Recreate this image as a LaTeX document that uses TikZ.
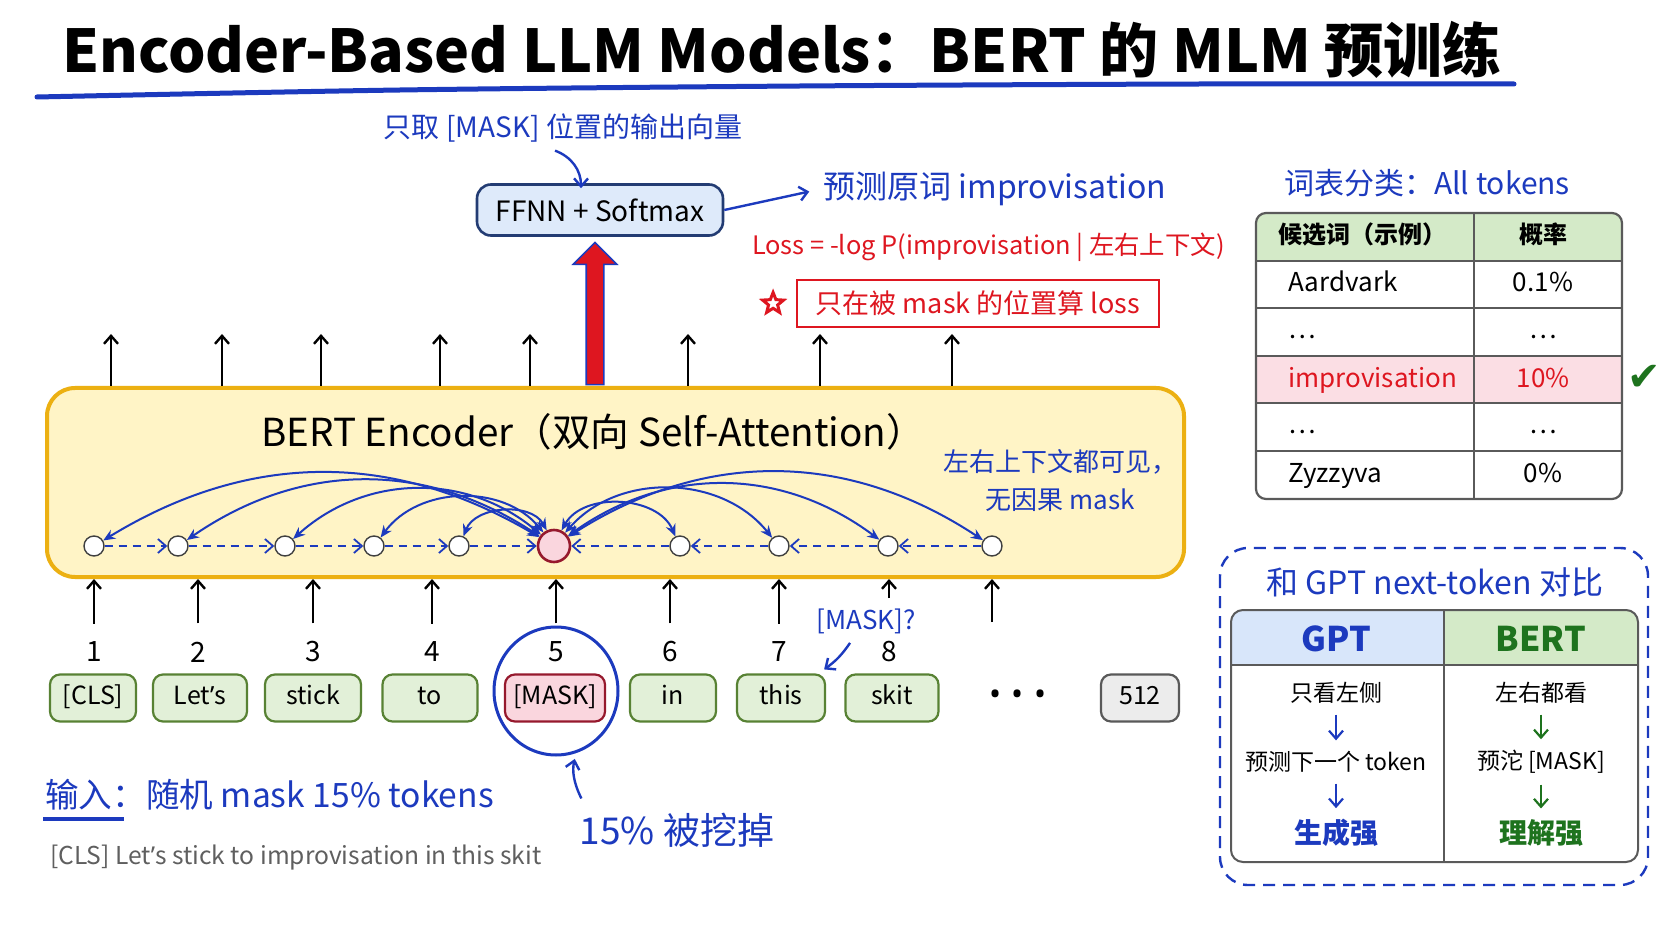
\documentclass[tikz,border=0pt]{standalone}
\usepackage{fontspec}
\setmainfont{Noto Sans CJK SC}
\newfontfamily\symfont{DejaVu Sans}
\newfontfamily\latinfont{Noto Sans}
\usetikzlibrary{arrows.meta,shapes.geometric,shapes.arrows,calc,positioning}

\definecolor{inkblue}{RGB}{28,58,190}
\definecolor{inkred}{RGB}{222,22,32}
\definecolor{inkgreen}{RGB}{30,115,30}
\definecolor{encfill}{RGB}{255,244,198}
\definecolor{encline}{RGB}{236,176,18}
\definecolor{tokfill}{RGB}{226,240,216}
\definecolor{tokline}{RGB}{88,130,52}
\definecolor{maskfill}{RGB}{250,214,222}
\definecolor{maskline}{RGB}{150,25,45}
\definecolor{ffnnfill}{RGB}{222,234,250}
\definecolor{ffnnline}{RGB}{35,60,115}
\definecolor{hdrgreen}{RGB}{212,234,200}
\definecolor{hdrblue}{RGB}{216,230,250}
\definecolor{rowpink}{RGB}{251,222,228}
\definecolor{gridgray}{RGB}{90,90,90}
\definecolor{textgray}{RGB}{95,95,95}

\newcommand{\fsz}[1]{\fontsize{#1pt}{#1pt}\selectfont}
\newcommand{\apos}{{\latinfont ’}}

\tikzset{
  tok/.style={draw=tokline, fill=tokfill, line width=1.1pt, rounded corners=5pt, minimum height=23.5pt, inner sep=0pt, text height=9pt, text depth=2.5pt, font=\fsz{12.5}},
  masktok/.style={tok, draw=maskline, fill=maskfill},
  posnum/.style={font=\fsz{14}, inner sep=1pt},
  att/.style={circle, draw=black!75, fill=white, line width=0.7pt, minimum size=10pt, inner sep=0pt},
  attmask/.style={att, draw=maskline, fill=maskfill, line width=1.3pt, minimum size=16pt},
  seq/.style={inkblue, line width=0.9pt, dash pattern=on 4pt off 3pt, -{Straight Barb[length=4pt,width=7pt]}},
  attn/.style={inkblue, line width=1pt, {Stealth[length=6pt,width=5pt]}-{Stealth[length=6pt,width=5pt]}},
  uparr/.style={line width=1.2pt, -{Straight Barb[length=4pt,width=7pt]}},
  note/.style={text=inkblue, inner sep=1pt},
  bluearr/.style={inkblue, line width=1.2pt, -{Straight Barb[length=4pt,width=7pt]}},
  cell/.style={font=\fsz{13}, inner sep=0pt, text height=9.5pt, text depth=2.5pt},
  colarr/.style={line width=1.1pt, shorten <=2pt, shorten >=2pt, -{Straight Barb[length=4pt,width=7pt]}}
}

\begin{document}
\begin{tikzpicture}[x=0.5pt,y=0.5pt]
\useasboundingbox (0,0) rectangle (1672,-941);
\fill[white] (0,0) rectangle (1672,-941);

\node[font=\fsz{29.5}\bfseries] (title) at (782,-50) {Encoder-Based LLM Models：BERT 的 MLM 预训练};
\draw[inkblue, line width=2.5pt, line cap=round] plot[smooth] coordinates {(37,-97) (400,-90) (800,-86) (1200,-84) (1514,-84)};

\node[draw=ffnnline, fill=ffnnfill, line width=1.3pt, rounded corners=7pt, minimum width=123pt, minimum height=25.5pt, font=\fsz{14}] (ffnn) at (600,-210) {FFNN + Softmax};
\node[note, font=\fsz{14}] (onlymask) at (563,-128) {只取 [MASK] 位置的输出向量};
\draw[bluearr] ($(onlymask.south)+(-8,-6)$) to[bend left=35] ($(ffnn.north)+(-19,-5)$);
\node[note, font=\fsz{16}, anchor=west] (pred) at (821,-189) {预测原词 improvisation};
\draw[bluearr, shorten >=6pt] (ffnn.east) -- (pred.west);
\node[text=inkred, font=\fsz{12.7}, anchor=west] (loss) at (745,-247) {Loss = -log P(improvisation | 左右上下文)};
\node[draw=inkred, line width=1.2pt, fill=white, text=inkred, font=\fsz{13.5}, minimum width=181pt, minimum height=23.5pt] (onlyloss) at (978,-303.5) {只在被 mask 的位置算 loss};
\node[star, star points=5, star point ratio=2.3, draw=inkred, line width=1.5pt, minimum size=11pt, inner sep=0pt, left=7pt of onlyloss] (star) {};

\node[draw=encline, fill=encfill, line width=2pt, rounded corners=14pt, minimum width=568.5pt, minimum height=94.5pt] (enc) at (615.5,-482.5) {};
\node[font=\fsz{19.3}] (enctitle) at (593,-432) {BERT Encoder（双向 Self-Attention）};
\node[note, font=\fsz{13}, align=center] (visible) at (1060,-481) {左右上下文都可见，\\[6pt]无因果 mask};

\node[single arrow, draw=inkblue, fill=inkred, line width=0.8pt, rotate=90, minimum height=71pt, minimum width=21pt, single arrow head extend=6.5pt, inner sep=4pt] (up) at (595,-318) {};

\foreach \x [count=\i] in {111,222,321,440,530,688,820,952} {
  \coordinate (o\i) at (\x,-334);
  \draw[uparr] (o\i |- enc.north) -- (o\i);
}

\foreach \n/\x in {a1/94,a2/178,a3/285,a4/374,a5/459,a7/680,a8/779,a9/888,a10/992}
  \node[att] (\n) at (\x,-546) {};
\node[attmask] (am) at (554,-546) {};
\foreach \s/\t in {a1/a2,a2/a3,a3/a4,a4/a5,a5/am,a7/am,a8/a7,a9/a8,a10/a9}
  \draw[seq] (\s) -- (\t);
\foreach \n/\b in {a1/31,a2/34,a3/41,a4/52,a5/65}
  \draw[attn] (am) to[bend right=\b] (\n);
\foreach \n/\b in {a7/64,a8/50,a9/36,a10/33}
  \draw[attn] (am) to[bend left=\b] (\n);

\foreach \n/\x/\w/\t in {cls/93/43/[CLS], lets/200/47/Let\apos s, stick/313/48/stick, to/430/47.5/to, in/673/43/in, this/781/44/this, skit/892/46.5/skit}
  \node[tok, minimum width=\w pt] (\n) at (\x,-698) {\t};
\node[masktok, minimum width=50pt] (maskt) at (555,-698) {[MASK]};
\node[tok, draw=gray!70!black, fill=gray!15, minimum width=39pt] (last) at (1140,-698) {512};
\node[font={\fsz{16}\latinfont}] (dots) at (1018,-698) {•\hspace{5pt}•\hspace{5pt}•};

\foreach \x [count=\i] in {94,198,313,432,556,670,779,889}
  \node[posnum] (n\i) at (\x,-652) {\i};
\foreach \i in {1,...,7}
  \draw[uparr, shorten <=8pt] (n\i) -- (n\i |- enc.south);

\node[note, font=\fsz{13}] (maskq) at (866,-621) {[MASK]?};
\draw[uparr, shorten <=4pt] (maskq.north -| n8) -- (n8 |- enc.south);
\draw[bluearr] ($(maskq.south west)+(36,-7)$) to[bend left=10] ($(this.north east)+(-2,4)$);
\coordinate (in9) at (992,-622);
\draw[uparr] (in9) -- (in9 |- enc.south);

\node[ellipse, draw=inkblue, line width=1.5pt, minimum width=62pt, minimum height=64pt] (ring) at (556,-691) {};
\node[note, font=\fsz{18.5}] (dug) at (677,-830) {15\% 被挖掉};
\draw[bluearr, shorten >=3pt] ($(dug.north west)+(4,12)$) to[bend left=20] (ring.-72);

\node[note, font=\fsz{16.8}, anchor=west] (input) at (43,-795) {输入：随机 mask 15\% tokens};
\draw[inkblue, line width=2pt] (43,-819) -- (124,-819);
\node[text=textgray, font=\fsz{12.3}, anchor=west] (sentence) at (43,-858) {[CLS] Let\apos s stick to improvisation in this skit};

\node[note, font=\fsz{15}] (vocab) at (1427,-183) {词表分类：All tokens};
\begin{scope}
  \clip[rounded corners=5pt] (1256,-213) rectangle (1622,-499);
  \fill[hdrgreen] (1256,-213) rectangle (1622,-261);
  \fill[rowpink] (1256,-356) rectangle (1622,-403);
\end{scope}
\foreach \y in {261,308,356,403,451}
  \draw[gridgray, line width=0.8pt] (1256,-\y) -- (1622,-\y);
\draw[gridgray, line width=0.8pt] (1474,-213) -- (1474,-499);
\draw[gridgray, line width=1.1pt, rounded corners=5pt] (1256,-213) rectangle (1622,-499);
\node[cell, font=\fsz{12}\bfseries] (hword) at (1362,-237) {候选词（示例）};
\node[cell, font=\fsz{12}\bfseries] (hprob) at (1543,-237) {概率};
\foreach \y/\w/\p/\c [count=\i] in {285/Aardvark/0.1\%/black, 332/\ldots/\ldots/black, 380/improvisation/10\%/inkred, 427/\ldots/\ldots/black, 475/Zyzzyva/0\%/black} {
  \node[cell, text=\c, anchor=west] (w\i) at (1288,-\y) {\w};
  \node[cell, text=\c] (p\i) at (1543,-\y) {\p};
}
\node[text=inkgreen, font={\fsz{20}\symfont}] (tick) at (1644,-378) {✔};

\draw[inkblue, line width=1.2pt, dash pattern=on 6pt off 4pt, rounded corners=14pt] (1220,-548) rectangle (1648,-885);
\node[note, font=\fsz{16}] (cmp) at (1435,-582) {和 GPT next-token 对比};
\begin{scope}
  \clip[rounded corners=6pt] (1231,-610) rectangle (1638,-862);
  \fill[hdrblue] (1231,-610) rectangle (1444,-665);
  \fill[hdrgreen] (1444,-610) rectangle (1638,-665);
\end{scope}
\draw[gridgray, line width=0.8pt] (1231,-665) -- (1638,-665);
\draw[gridgray, line width=0.8pt] (1444,-610) -- (1444,-862);
\draw[gridgray, line width=1pt, rounded corners=6pt] (1231,-610) rectangle (1638,-862);
\node[text=inkblue, font=\fsz{17}\bfseries] (gpthd) at (1336,-639) {GPT};
\node[text=inkgreen, font=\fsz{17}\bfseries] (berthd) at (1541,-639) {BERT};
\node[font=\fsz{11.5}] (g1) at (1336,-693) {只看左侧};
\node[font=\fsz{11.5}] (g2) at (1336,-762) {预测下一个 token};
\node[text=inkblue, font=\fsz{14}\bfseries] (g3) at (1336,-833) {生成强};
\node[font=\fsz{11.5}] (b1) at (1541,-693) {左右都看};
\node[font=\fsz{11.5}] (b2) at (1541,-762) {预沱 [MASK]};
\node[text=inkgreen, font=\fsz{14}\bfseries] (b3) at (1541,-833) {理解强};
\draw[colarr, inkblue] (g1) -- (g2);
\draw[colarr, inkblue] (g2) -- (g3);
\draw[colarr, inkgreen] (b1) -- (b2);
\draw[colarr, inkgreen] (b2) -- (b3);
\end{tikzpicture}
\end{document}
